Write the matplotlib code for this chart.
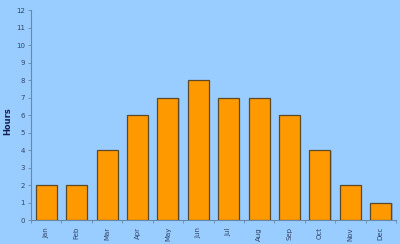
import numpy as np
import matplotlib.pyplot as plt

months = ["Jan", "Feb", "Mar", "Apr", "May", "Jun", "Jul", "Aug", "Sep", "Oct", "Nov", "Dec"]
hours = [2, 2, 4, 6, 7, 8, 7, 7, 6, 4, 2, 1]

BG = "#99ccff"
fig = plt.figure(figsize=(4.0, 2.44), dpi=100, facecolor=BG)
ax = fig.add_axes([0.0775, 0.098, 0.9125, 0.861], facecolor=BG)

x = np.arange(len(months))
# faint shadow then bars
ax.bar(x + 0.04, hours, 0.69, bottom=-0.05, color="#557799", alpha=0.35, zorder=2)
ax.bar(x, hours, 0.69, color="#ff9900", edgecolor="#5a4a2a", linewidth=0.9, zorder=3)

ax.set_xlim(-0.5, len(months) - 0.5)
ax.set_ylim(0, 12)
ax.set_yticks(range(13))
ax.tick_params(axis="y", labelsize=5, colors="#334466", length=2.5, width=0.6, pad=2)
ax.set_xticks(x)
ax.set_xticklabels(months, rotation=90, fontsize=5, color="#334466")
ax.set_xticks(np.arange(-0.5, len(months)), minor=True)
ax.tick_params(axis="x", which="major", length=0, pad=5)
ax.tick_params(axis="x", which="minor", length=2.5, width=0.6, color="#6688aa")
ax.tick_params(axis="y", color="#6688aa")

for s in ["top", "right"]:
    ax.spines[s].set_visible(False)
for s in ["left", "bottom"]:
    ax.spines[s].set_color("#6688aa")
    ax.spines[s].set_linewidth(0.8)

fig.text(8 / 400, 1 - 121 / 244, "Hours", rotation=90, ha="center", va="center",
         fontsize=6, fontweight="bold", color="#112255")

fig.savefig("out.png", dpi=100, facecolor=BG)
